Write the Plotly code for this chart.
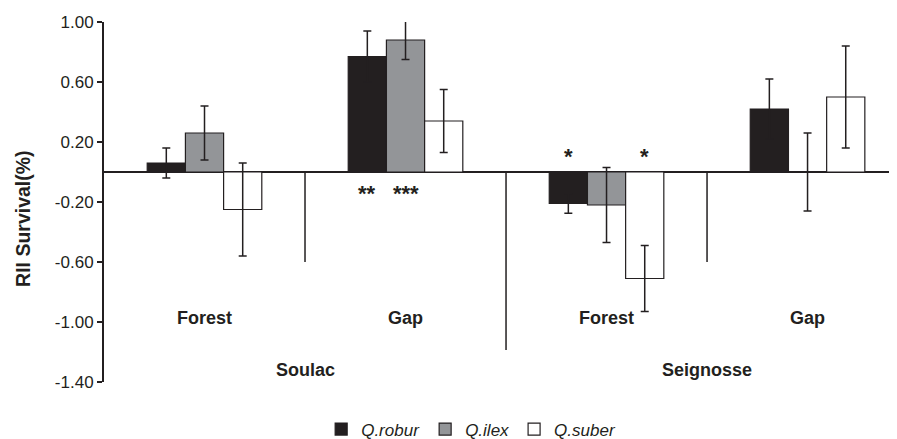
import plotly.graph_objects as go

# ---- data ----
categories = ["Soulac Forest", "Soulac Gap", "Seignosse Forest", "Seignosse Gap"]
habitat_labels = ["Forest", "Gap", "Forest", "Gap"]
site_labels = ["Soulac", "Seignosse"]
series_names = ["Q.robur", "Q.ilex", "Q.suber"]

robur = [0.06, 0.77, -0.21, 0.42]
robur_err = [0.10, 0.17, 0.065, 0.20]
ilex = [0.26, 0.88, -0.22, 0.0]
ilex_err = [0.18, 0.13, 0.25, 0.26]
suber = [-0.25, 0.34, -0.71, 0.50]
suber_err = [0.31, 0.21, 0.22, 0.34]

robur_sig = ["", "**", "*", ""]
ilex_sig = ["", "***", "", ""]
suber_sig = ["", "", "*", ""]

y_tick_vals = [1.0, 0.6, 0.2, -0.2, -0.6, -1.0, -1.4]
y_tick_text = ["1.00", "0.60", "0.20", "-0.20", "-0.60", "-1.00", "-1.40"]

# ---- styling ----
DARK = "#231f20"
FONT = "Liberation Sans, Arial, sans-serif"
fills = [DARK, "#939598", "#ffffff"]
values = [robur, ilex, suber]
errors = [robur_err, ilex_err, suber_err]
sigs = [robur_sig, ilex_sig, suber_sig]

fig = go.Figure()
for name, vals, errs, col in zip(series_names, values, errors, fills):
    fig.add_trace(go.Bar(
        name=name, x=categories, y=vals,
        marker=dict(color=col, line=dict(color=DARK, width=1.2)),
        error_y=dict(type="data", array=errs, visible=True,
                     color=DARK, thickness=1.5, width=4),
    ))

bargap = 0.43
n_series = len(series_names)
bar_w = (1 - bargap) / n_series

annotations = []
# significance stars
for s_idx, sig in enumerate(sigs):
    offset = (s_idx - (n_series - 1) / 2) * bar_w
    for c_idx, txt in enumerate(sig):
        if not txt:
            continue
        v = values[s_idx][c_idx]
        annotations.append(dict(
            x=c_idx + offset, y=0, xref="x", yref="y", text=f"<b>{txt}</b>",
            showarrow=False, yanchor="middle",
            yshift=-21 if v > 0 else 16,
            font=dict(family=FONT, size=22, color=DARK),
        ))
# habitat labels
for c_idx, lab in enumerate(habitat_labels):
    annotations.append(dict(
        x=c_idx, y=-0.973, xref="x", yref="y", text=f"<b>{lab}</b>",
        showarrow=False, yanchor="middle",
        font=dict(family=FONT, size=18, color=DARK),
    ))
# site labels
n_per_site = len(categories) // len(site_labels)
for s_i, lab in enumerate(site_labels):
    annotations.append(dict(
        x=s_i * n_per_site + (n_per_site - 1) / 2, y=-1.32, xref="x", yref="y",
        text=f"<b>{lab}</b>", showarrow=False, yanchor="middle",
        font=dict(family=FONT, size=18, color=DARK),
    ))
# y axis title
annotations.append(dict(
    x=-0.102, y=0.506, xref="paper", yref="paper", text="<b>RII Survival(%)</b>",
    textangle=-90, showarrow=False, xanchor="center", yanchor="middle", yshift=-19,
    font=dict(family=FONT, size=19.5, color=DARK),
))

shapes = []
# category dividers hanging from the zero line
divider_depth = [-0.6, -1.187, -0.6]
for i, d in enumerate(divider_depth):
    shapes.append(dict(type="line", xref="x", yref="y",
                       x0=i + 0.5, x1=i + 0.5, y0=0, y1=d,
                       line=dict(color=DARK, width=1.5)))

# the page body adds an 8px margin, so the figure is 8px smaller than the window
fig.update_layout(
    width=889, height=431,
    margin=dict(l=96, r=0, t=14, b=57, autoexpand=False),
    paper_bgcolor="white", plot_bgcolor="white",
    barmode="group", bargap=bargap, bargroupgap=0,
    showlegend=True,
    legend=dict(orientation="h", x=0.521, xanchor="center", xref="container",
                y=0.022, yanchor="middle", yref="container",
                font=dict(family=FONT, size=17, color=DARK, style="italic"),
                itemwidth=30, tracegroupgap=0, bgcolor="rgba(0,0,0,0)"),
    xaxis=dict(range=[-0.5, 3.445], showticklabels=False, ticks="",
               showgrid=False, zeroline=False, showline=False, automargin=False),
    yaxis=dict(range=[-1.4, 1.0], tickvals=y_tick_vals, ticktext=y_tick_text,
               ticks="outside", ticklen=5, tickwidth=1.5, tickcolor=DARK,
               showline=True, linecolor=DARK, linewidth=2, automargin=False,
               showgrid=False, zeroline=True, zerolinecolor=DARK, zerolinewidth=1.5,
               tickfont=dict(family=FONT, size=17, color=DARK)),
    annotations=annotations, shapes=shapes,
)

fig.write_html("out.html")
